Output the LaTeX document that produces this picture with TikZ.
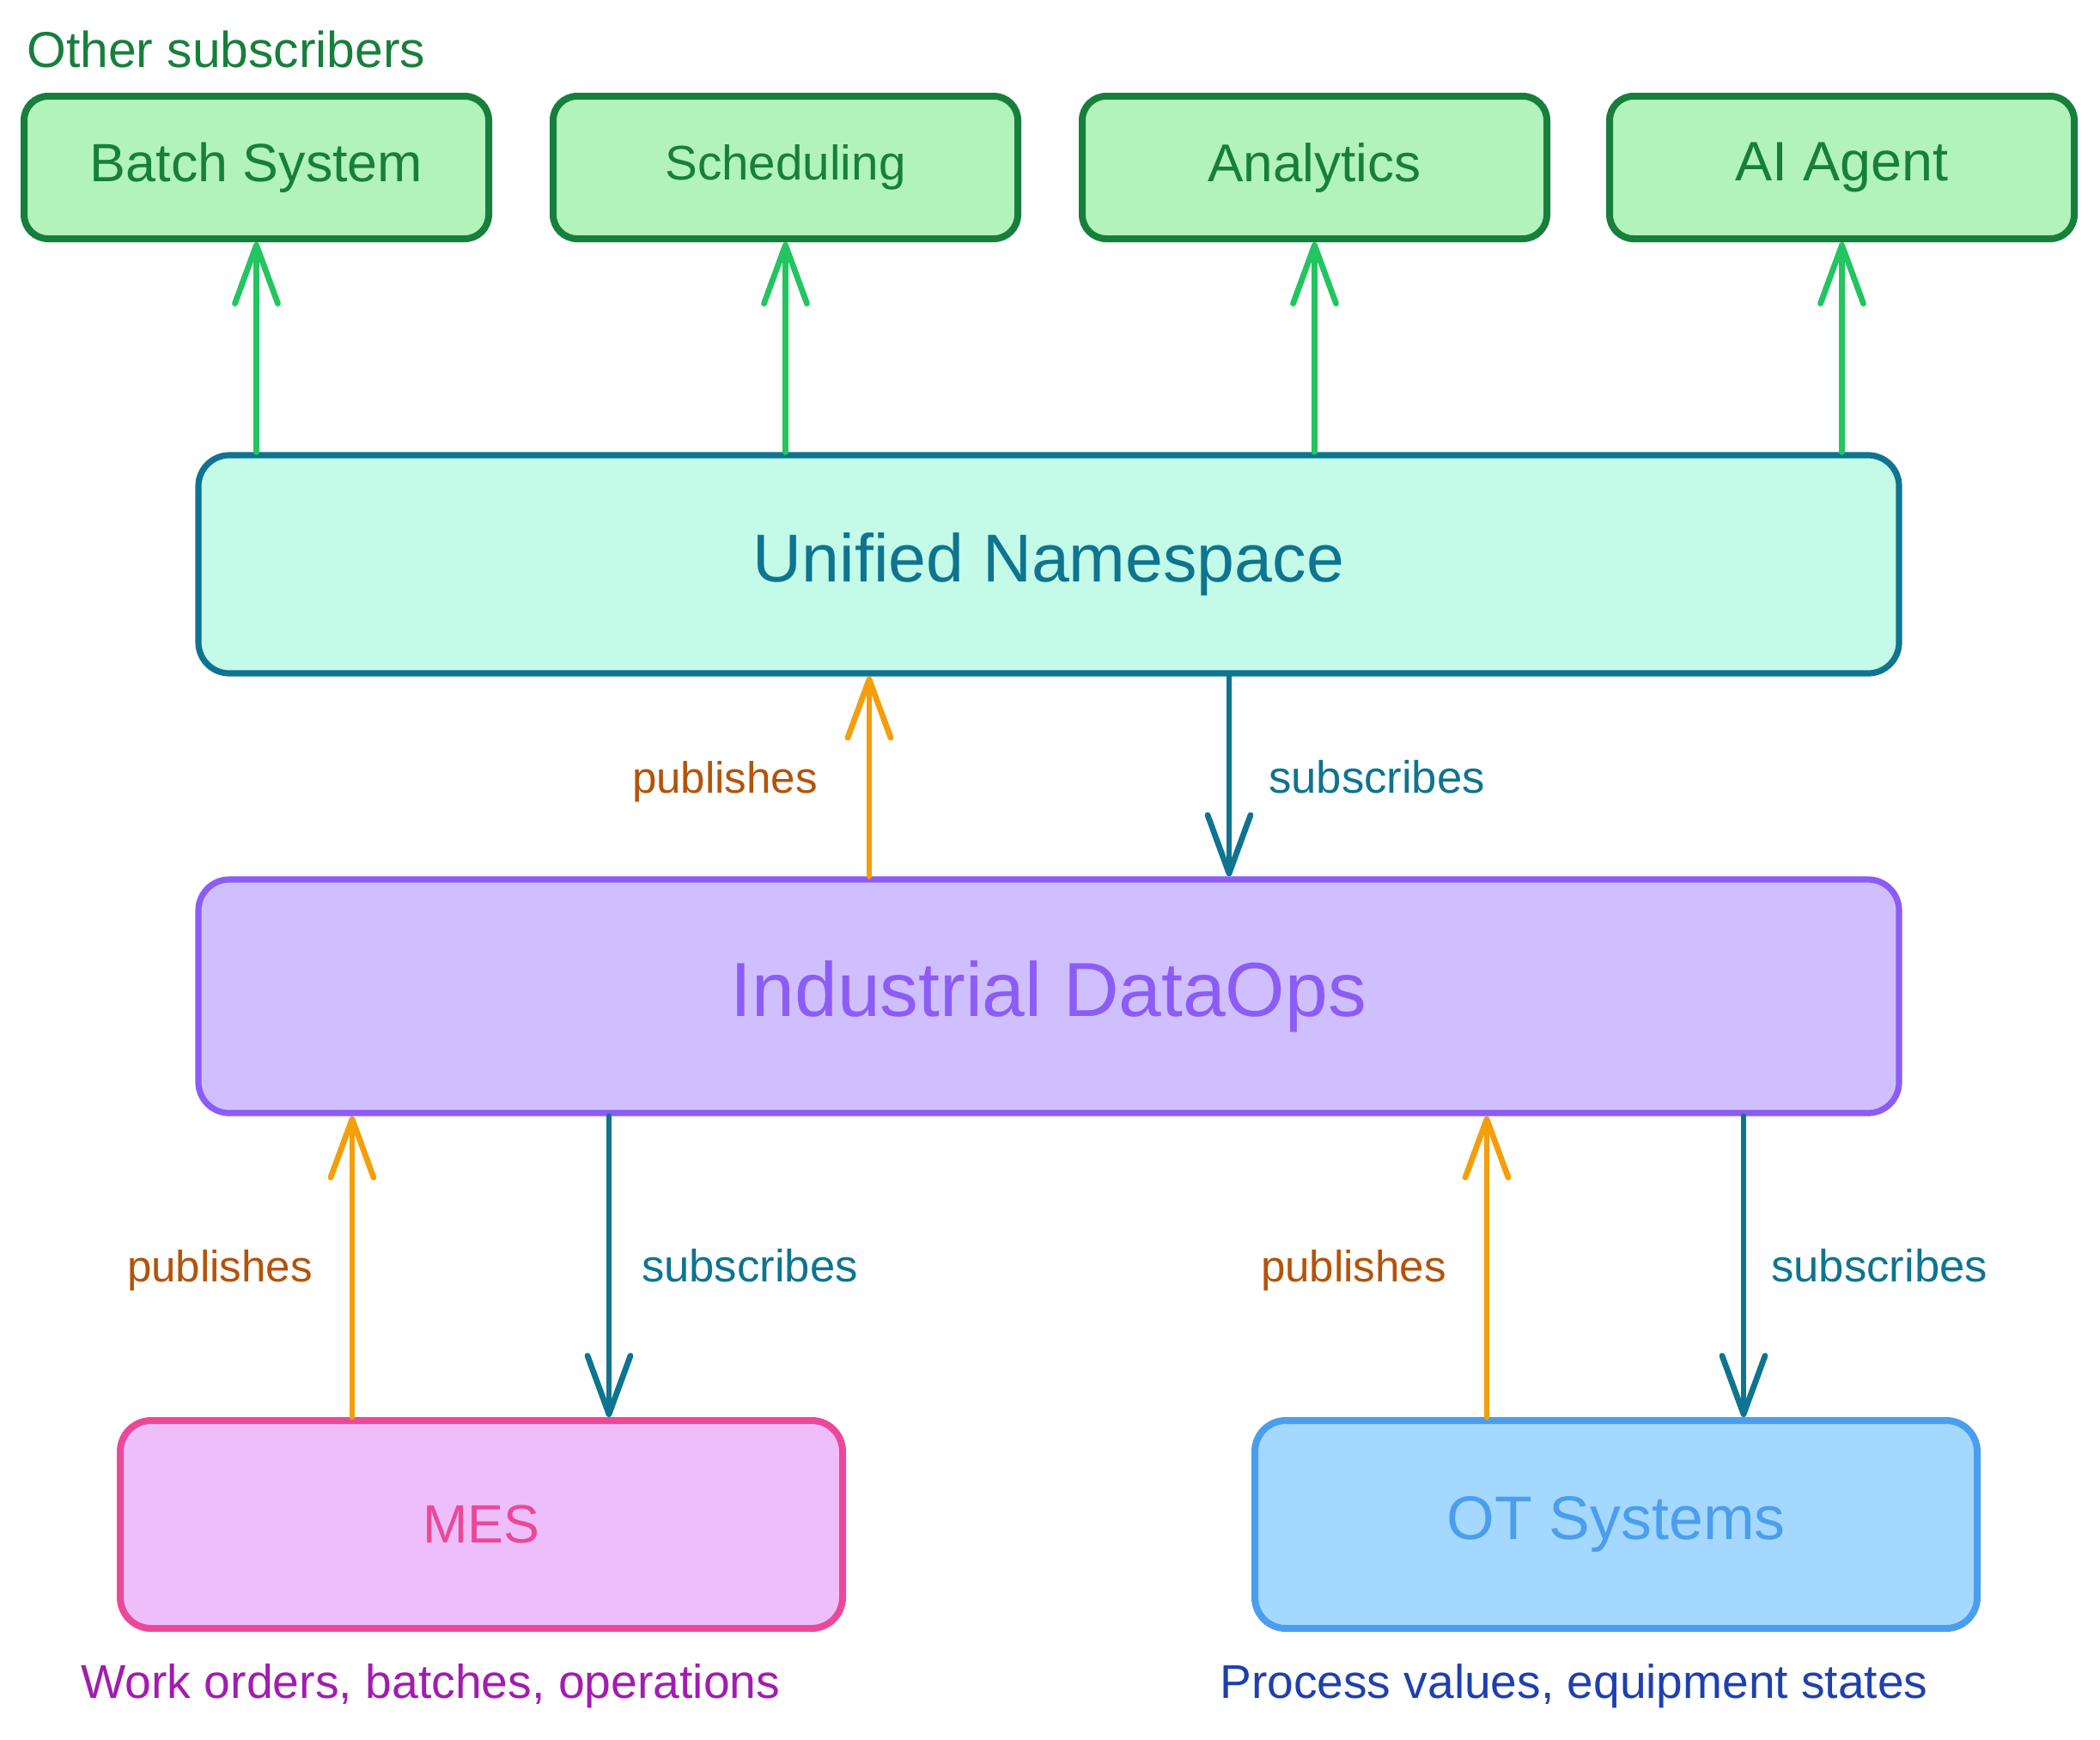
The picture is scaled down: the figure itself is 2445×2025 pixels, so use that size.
\documentclass[tikz,border=0pt]{standalone}
\usepackage{fontspec}
\setmainfont{Liberation Sans}
\usetikzlibrary{arrows.meta}
\definecolor{grfill}{HTML}{B2F2BB}
\definecolor{grline}{HTML}{177F3C}
\definecolor{grarrow}{HTML}{22C55E}
\definecolor{unsfill}{HTML}{C3FAE8}
\definecolor{unsline}{HTML}{0E7490}
\definecolor{dofill}{HTML}{D0BFFF}
\definecolor{doline}{HTML}{8B5CF6}
\definecolor{mesfill}{HTML}{EEBEFA}
\definecolor{mesline}{HTML}{EC4899}
\definecolor{otfill}{HTML}{A5D8FF}
\definecolor{otline}{HTML}{4A9EED}
\definecolor{pubarrow}{HTML}{F59E0B}
\definecolor{pubtext}{HTML}{B45309}
\definecolor{mescap}{HTML}{A21CAF}
\definecolor{otcap}{HTML}{1E40AF}
\newcommand\fitw[2]{\resizebox{#1}{!}{#2}}
\begin{document}
\begin{tikzpicture}[x=0.5pt,y=-0.5pt,
  box/.style={rounded corners=18pt, line width=3.6pt, inner sep=0pt, anchor=center},
  subbox/.style={box, rounded corners=14pt, line width=4pt, fill=grfill, draw=grline, text=grline, minimum width=270.5pt, minimum height=83pt},
  bigbox/.style={box, minimum width=990pt},
  srcbox/.style={box, line width=4pt, minimum width=420.5pt, minimum height=121pt},
  conn/.style={line width=3.4pt, line cap=round, -{Straight Barb[length=34pt,width=25pt,line width=3.4pt,round]}},
  garrow/.style={conn, draw=grarrow},
  pubarr/.style={conn, draw=pubarrow},
  subarr/.style={conn, draw=unsline},
  lbl/.style={inner sep=0pt, anchor=base},
]
\useasboundingbox (0,0) rectangle (2445,2025);
% subscriber boxes
\node[subbox] (batch) at (298.5,195) {\fitw{193.5pt}{Batch System}};
\node[subbox] (sched) at (914.5,195) {\fitw{140pt}{Scheduling}};
\node[subbox] (anly)  at (1530.5,195) {\fitw{124pt}{Analytics}};
\node[subbox] (aiag)  at (2144.5,195) {\fitw{124pt}{AI Agent}};
\node[lbl, anchor=base west, text=grline] (other) at (31,78) {\fitw{232pt}{Other subscribers}};
% main boxes
\node[bigbox, fill=unsfill, draw=unsline, text=unsline, minimum height=127pt] (uns) at (1221,657) {\fitw{344pt}{Unified Namespace}};
\node[bigbox, fill=dofill, draw=doline, text=doline, minimum height=136pt] (dops) at (1221,1160) {\fitw{370pt}{Industrial DataOps}};
\node[srcbox, fill=mesfill, draw=mesline, text=mesline] (mes) at (560.5,1775) {\fitw{68pt}{MES}};
\node[srcbox, fill=otfill, draw=otline, text=otline] (ot) at (1881.5,1775) {\fitw{197pt}{OT Systems}};
% captions
\node[lbl, text=mescap] (mescap) at (501.5,1977) {\fitw{407pt}{Work orders, batches, operations}};
\node[lbl, text=otcap] (otcap) at (1832.5,1977) {\fitw{412pt}{Process values, equipment states}};
% subscriber arrows
\draw[garrow] (batch.south |- uns.north) -- (batch.south);
\draw[garrow] (sched.south |- uns.north) -- (sched.south);
\draw[garrow] (anly.south |- uns.north) -- (anly.south);
\draw[garrow] (aiag.south |- uns.north) -- (aiag.south);
% UNS <-> DataOps
\coordinate (x1) at (1012,0);
\coordinate (x2) at (1431,0);
\draw[pubarr] (x1 |- dops.north) -- (x1 |- uns.south);
\draw[subarr] (x2 |- uns.south) -- (x2 |- dops.north);
\node[lbl, text=pubtext] (l1) at (844,923) {\fitw{108pt}{publishes}};
\node[lbl, text=unsline] (l2) at (1603,923) {\fitw{126pt}{subscribes}};
% DataOps <-> MES
\coordinate (x3) at (410,0);
\coordinate (x4) at (709,0);
\draw[pubarr] (x3 |- mes.north) -- (x3 |- dops.south);
\draw[subarr] (x4 |- dops.south) -- (x4 |- mes.north);
\node[lbl, text=pubtext] (l3) at (256,1492) {\fitw{108pt}{publishes}};
\node[lbl, text=unsline] (l4) at (873,1492) {\fitw{126pt}{subscribes}};
% DataOps <-> OT
\coordinate (x5) at (1731,0);
\coordinate (x6) at (2030,0);
\draw[pubarr] (x5 |- ot.north) -- (x5 |- dops.south);
\draw[subarr] (x6 |- dops.south) -- (x6 |- ot.north);
\node[lbl, text=pubtext] (l5) at (1576,1492) {\fitw{108pt}{publishes}};
\node[lbl, text=unsline] (l6) at (2188,1492) {\fitw{126pt}{subscribes}};
\end{tikzpicture}
\end{document}
